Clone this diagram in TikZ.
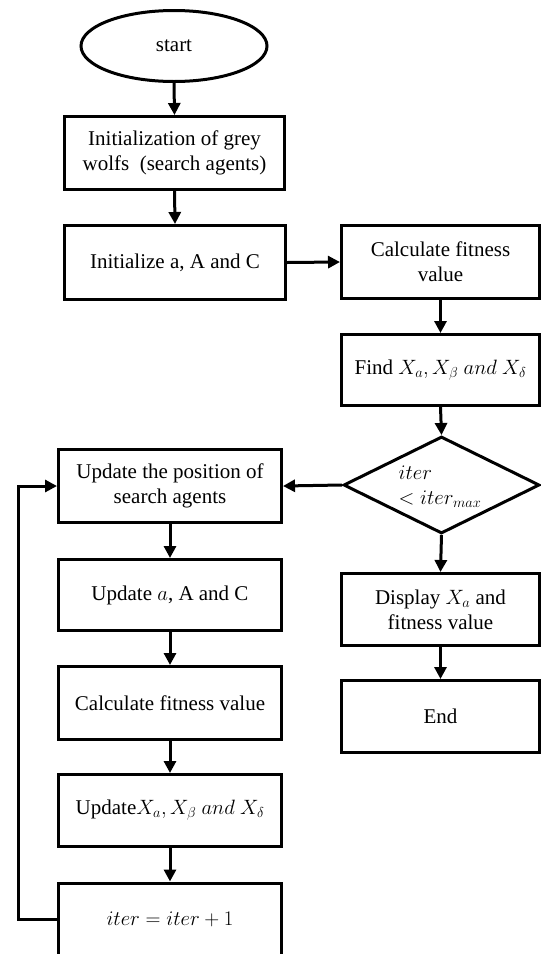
\documentclass[tikz,border=0pt]{standalone}
\usepackage{fontspec}
\setmainfont{Liberation Serif}
\usetikzlibrary{arrows.meta,shapes.geometric}
\tikzset{
  box/.style={draw, line width=3pt, rectangle, inner sep=0pt, align=center,
    font=\fontsize{21}{25}\selectfont},
  lbox/.style={box, minimum width=223pt},
  rbox/.style={box, minimum width=198pt},
  arr/.style={line width=3pt, -{Triangle[length=12pt,width=12pt]}},
  txt/.style={inner sep=0pt, align=left, font=\fontsize{21}{25}\selectfont}
}
\begin{document}
\begin{tikzpicture}[x=1pt,y=-1pt]
\useasboundingbox (0,0) rectangle (541,954);
\fill[white] (0,0) rectangle (541,954);
\clip (0,0) rectangle (541,954);
% left top column
\node[box, shape=ellipse, minimum width=186pt, minimum height=71pt] (start) at (174,46) {start};
\node[box, minimum width=220pt, minimum height=73pt] (init1) at (174.5,153) {Initialization of grey\\wolfs\ \ (search agents)};
\node[box, minimum width=221pt, minimum height=74pt] (init2) at (175,262.5) {Initialize a, A and C};
% right column
\node[rbox, minimum height=73pt] (calc1) at (440.5,262) {Calculate fitness\\value};
\node[rbox, minimum height=71pt] (find) at (440.5,370) {Find $X_a, X_\beta\ and\ X_\delta$};
\node[draw, line width=3pt, shape=diamond, minimum width=196pt, minimum height=97pt, inner sep=0pt] (dec) at (441.5,485) {};
\node[txt] (dectxt) at (440,487) {$iter$\\$<iter_{max}$};
\node[rbox, minimum height=72pt] (disp) at (440.5,609.5) {Display $X_a$ and\\fitness value};
\node[rbox, minimum height=72pt] (endn) at (440.5,716.5) {End};
% left lower column
\node[lbox, minimum height=73pt] (upd) at (170,486) {Update the position of\\search agents};
\node[lbox, minimum height=71pt] (upda) at (170,595) {Update $a$, A and C};
\node[lbox, minimum height=73pt] (calc2) at (170,703) {Calculate fitness value};
\node[lbox, minimum height=72pt] (updx) at (170,810.5) {Update$X_a, X_\beta\ and\ X_\delta$};
\node[lbox, minimum height=73pt] (iter) at (170,919.5) {$iter=iter+1$};
\coordinate (lp) at (18,0);
% connectors
\draw[arr] (start.south) -- (init1.north);
\draw[arr] (init1.south) -- (init2.north);
\draw[arr] (init2.east) -- (calc1.west);
\draw[arr] (calc1.south) -- (find.north);
\draw[arr] (find.south) -- (dec.north);
\draw[arr] (dec.west) -- (upd.east);
\draw[arr] (dec.south) -- (disp.north);
\draw[arr] (disp.south) -- (endn.north);
\draw[arr] (upd.south) -- (upda.north);
\draw[arr] (upda.south) -- (calc2.north);
\draw[arr] (calc2.south) -- (updx.north);
\draw[arr] (updx.south) -- (iter.north);
\draw[arr] (iter.west) -- (iter.west -| lp) |- (upd.west);
\end{tikzpicture}
\end{document}
